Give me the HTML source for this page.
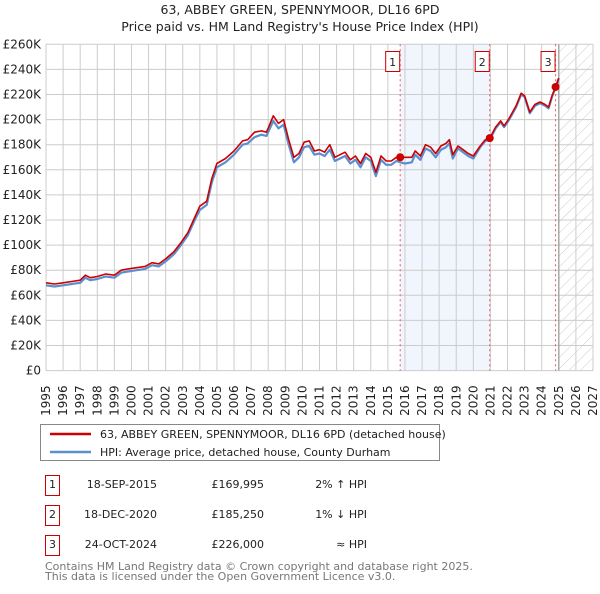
<!DOCTYPE html>
<html><head><meta charset="utf-8"><style>
body{margin:0;background:#fff;font-family:"DejaVu Sans","Liberation Sans",sans-serif;}
svg text{font-family:"DejaVu Sans","Liberation Sans",sans-serif;}
</style></head><body>
<svg id="chart" width="600" height="590" xmlns="http://www.w3.org/2000/svg">
<defs><pattern id="hatch" patternUnits="userSpaceOnUse" width="8" height="8" patternTransform="rotate(45)"><line x1="0" y1="0" x2="0" y2="8" stroke="#ccc" stroke-width="1"/></pattern></defs>
<text x="300" y="14" text-anchor="middle" font-size="12.5" fill="#222">63, ABBEY GREEN, SPENNYMOOR, DL16 6PD</text>
<text x="300" y="31" text-anchor="middle" font-size="12.5" fill="#222">Price paid vs. HM Land Registry's House Price Index (HPI)</text>
<g id="plot"></g>
<g>
<rect x="40.5" y="424.5" width="399" height="36" fill="#fff" stroke="#888"/>
<line x1="50" y1="434" x2="91" y2="434" stroke="#cc0000" stroke-width="2.5"/>
<text x="100" y="438" font-size="11" fill="#222">63, ABBEY GREEN, SPENNYMOOR, DL16 6PD (detached house)</text>
<line x1="50" y1="452" x2="91" y2="452" stroke="#5b8fd0" stroke-width="2.5"/>
<text x="100" y="456" font-size="11" fill="#222">HPI: Average price, detached house, County Durham</text>
</g>
<g font-size="11" fill="#222">
<rect x="45.5" y="475.5" width="14" height="20" fill="#fff" stroke="#cc0000"/><text x="52.5" y="488" text-anchor="middle">1</text>
<text x="157" y="488" text-anchor="end">18-SEP-2015</text><text x="264" y="488" text-anchor="end">£169,995</text><text x="367" y="488" text-anchor="end">2% ↑ HPI</text>
<rect x="45.5" y="505.5" width="14" height="20" fill="#fff" stroke="#cc0000"/><text x="52.5" y="518" text-anchor="middle">2</text>
<text x="157" y="518" text-anchor="end">18-DEC-2020</text><text x="264" y="518" text-anchor="end">£185,250</text><text x="367" y="518" text-anchor="end">1% ↓ HPI</text>
<rect x="45.5" y="535.5" width="14" height="20" fill="#fff" stroke="#cc0000"/><text x="52.5" y="548" text-anchor="middle">3</text>
<text x="157" y="548" text-anchor="end">24-OCT-2024</text><text x="264" y="548" text-anchor="end">£226,000</text><text x="367" y="548" text-anchor="end">≈ HPI</text>
</g>
<text x="45" y="570" font-size="11" fill="#777">Contains HM Land Registry data © Crown copyright and database right 2025.</text>
<text x="45" y="580" font-size="11" fill="#777">This data is licensed under the Open Government Licence v3.0.</text>
</svg>
<script>
const dates=[1995.0,1995.5,1996.0,1996.5,1997.0,1997.3,1997.6,1998.0,1998.5,1999.0,1999.4,1999.8,2000.3,2000.8,2001.2,2001.6,2002.0,2002.5,2002.9,2003.3,2003.7,2004.0,2004.4,2004.7,2005.0,2005.5,2006.0,2006.5,2006.8,2007.2,2007.6,2007.9,2008.3,2008.6,2008.9,2009.2,2009.5,2009.8,2010.1,2010.4,2010.7,2011.0,2011.3,2011.6,2011.9,2012.2,2012.5,2012.8,2013.1,2013.4,2013.7,2014.0,2014.3,2014.6,2014.9,2015.2,2015.5,2015.72,2016.0,2016.4,2016.6,2016.9,2017.2,2017.5,2017.8,2018.1,2018.4,2018.6,2018.8,2019.1,2019.4,2019.7,2020.0,2020.4,2020.7,2020.96,2021.3,2021.6,2021.8,2022.1,2022.5,2022.8,2023.0,2023.3,2023.6,2023.9,2024.2,2024.4,2024.6,2024.81,2025.0];
const hpi=[68,67,68,69,70,74,72,73,75,74,78,79,80,81,84,83,87,93,100,108,120,128,132,150,162,166,172,180,181,186,188,187,199,193,196,180,166,170,178,179,172,173,171,176,167,169,171,165,168,162,170,167,155,168,164,164,167,166,165,166,172,168,177,175,170,176,178,181,169,177,174,171,169,178,183,184,193,198,194,200,210,220,218,205,211,213,211,209,218,226,233];
const paid=[70,69,70,71,72,76,74,75,77,76,80,81,82,83,86,85,89,95,102,110,122,131,135,153,165,169,175,183,184,190,191,190,203,197,200,184,170,173,182,183,175,176,174,180,170,172,174,168,171,165,173,170,158,171,167,167,170,170,170,170,175,171,180,178,173,179,181,184,172,179,176,173,171,179,184,185.25,194,199,195,201,211,221,219,206,212,214,212,210,219,226,233];
const yearTicks=[1995,1996,1997,1998,1999,2000,2001,2002,2003,2004,2005,2006,2007,2008,2009,2010,2011,2012,2013,2014,2015,2016,2017,2018,2019,2020,2021,2022,2023,2024,2025,2026,2027];
const valueTicks=[0,20,40,60,80,100,120,140,160,180,200,220,240,260];
const saleDates=[2015.72,2020.96,2024.81];
const salePrices=[169.995,185.25,226];
const saleLabels=["1","2","3"];
const NS="http://www.w3.org/2000/svg";
const X0=46,X1=593,Y0=370.6,Y1=44.3;
function xs(t){return X0+(t-1995)/(2027-1995)*(X1-X0);}
function ys(v){return Y0-(v/260)*(Y0-Y1);}
const g=document.getElementById('plot');
function mk(tag,attrs,parent){const e=document.createElementNS(NS,tag);for(const k in attrs)e.setAttribute(k,attrs[k]);(parent||g).appendChild(e);return e;}
let sh=mk('rect',{x:xs(saleDates[0]),y:Y1,width:xs(saleDates[1])-xs(saleDates[0]),height:Y0-Y1,fill:'#eef3fd',opacity:0.8});


let ht=mk('rect',{x:xs(2025.0),y:Y1,width:X1-xs(2025.0),height:Y0-Y1,fill:'url(#hatch)'});


yearTicks.forEach(t=>{
 const l=mk('line',{x1:xs(t),x2:xs(t),y1:Y1,y2:Y0,stroke:'#ccc','stroke-width':1});
 
 
 const tx=mk('text',{transform:`translate(${xs(t)+4},${Y0+30}) rotate(-90)`,'font-size':12,fill:'#222','text-anchor':'middle'});
 tx.textContent=t;
 
 
});
valueTicks.forEach(v=>{
 const l=mk('line',{x1:X0,x2:X1,y1:ys(v),y2:ys(v),stroke:'#ccc','stroke-width':1});
 
 
 const tx=mk('text',{x:X0-5,y:ys(v)+4,'font-size':12,fill:'#222','text-anchor':'end'});
 tx.textContent=v===0?'£0':'£'+v+'K';
 
 
});
let nl=mk('line',{x1:xs(2025.0),x2:xs(2025.0),y1:Y1,y2:Y0,stroke:'#999','stroke-width':1.2});


saleDates.forEach(d=>{
 const l=mk('line',{x1:xs(d),x2:xs(d),y1:Y1,y2:Y0,stroke:'#e55','stroke-width':1,'stroke-dasharray':'2,3'});
 
 
});
function path(vals,color,w,name){
 const d=vals.map((v,i)=>(i?'L':'M')+xs(dates[i]).toFixed(1)+','+ys(v).toFixed(1)).join('');
 const p=mk('path',{d:d,fill:'none',stroke:color,'stroke-width':w,'stroke-linejoin':'round'});
 
 
}
path(hpi,'#5b8fd0',2.2,'hpi-line');
path(paid,'#cc0000',1.6,'price-paid-line');
saleDates.forEach((d,i)=>{
 const c=mk('circle',{cx:xs(d),cy:ys(salePrices[i]),r:4,fill:'#cc0000'});
 
 
 const bx=xs(d)-5;
 const r=mk('rect',{x:bx-9.5,y:51.5,width:14,height:20,fill:'#fff',stroke:'#cc0000'});
 
 
 const t=mk('text',{x:bx-2.5,y:66,'font-size':11,fill:'#222','text-anchor':'middle'});
 t.textContent=saleLabels[i];
 
 
});
</script>
</body></html>
